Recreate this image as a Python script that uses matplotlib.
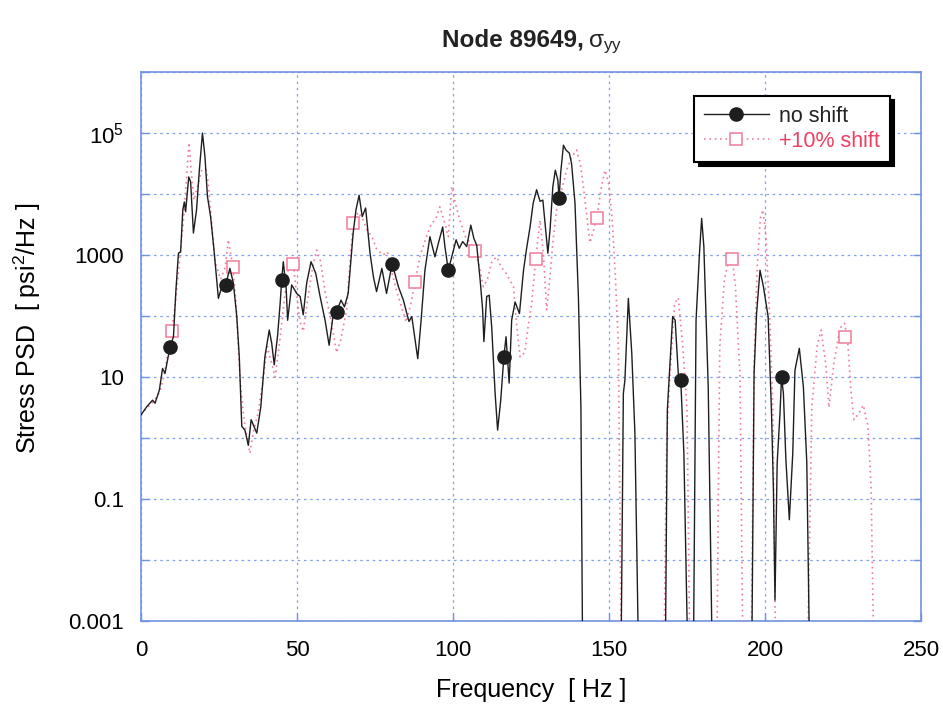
import numpy as np
import matplotlib
matplotlib.use("Agg")
import matplotlib.pyplot as plt
from matplotlib.lines import Line2D
from matplotlib import font_manager as fm

names = {f.name for f in fm.fontManager.ttflist}
FONT = "Liberation Sans Narrow" if "Liberation Sans Narrow" in names else "Liberation Sans"
plt.rcParams["font.family"] = [FONT, "DejaVu Sans"]
plt.rcParams["mathtext.fontset"] = "custom"
plt.rcParams["mathtext.rm"] = FONT
plt.rcParams["mathtext.it"] = FONT

# ---------------- data ----------------
# "no shift" curve: frequency [Hz] and log10 of Stress PSD [psi^2/Hz]
noshift_freq = [0.0, 1.8, 3.7, 4.5, 5.9, 6.9, 7.7, 9.3, 10.4, 11.2, 12.0, 12.7, 13.4, 13.9, 14.3,
                15.3, 15.9, 16.8, 17.8, 18.7, 19.7, 20.5, 21.3, 22.3, 23.4, 24.8, 25.9, 27.1, 28.5,
                29.6, 30.7, 31.5, 32.3, 33.3, 34.4, 35.3, 37.1, 38.4, 39.7, 41.1, 41.9, 42.7, 43.8,
                44.6, 45.1, 45.6, 46.5, 47.0, 48.3, 49.9, 51.0, 52.0, 53.1, 54.5, 56.0, 57.4, 59.0,
                60.3, 61.6, 62.7, 64.1, 65.2, 66.4, 68.0, 68.9, 69.9, 70.9, 72.0, 73.4, 74.5, 75.5,
                77.2, 78.7, 80.5, 82.5, 84.1, 85.2, 85.9, 86.8, 88.7, 89.7, 91.0, 92.6, 94.2, 95.3,
                96.7, 97.4, 98.5, 99.6, 101.0, 102.0, 103.1, 104.4, 105.7, 106.7, 107.6, 108.7,
                109.5, 109.9, 110.8, 111.6, 112.4, 113.5, 114.3, 115.3, 116.3, 117.0, 118.0, 118.8,
                119.9, 121.3, 122.6, 123.6, 124.7, 125.7, 126.8, 127.9, 128.8, 129.5, 130.4, 131.1,
                132.0, 132.8, 133.6, 134.0, 134.5, 135.4, 136.2, 137.3, 138.0, 139.1, 140.2, 141.0,
                141.6, 153.8, 154.6, 155.1, 156.2, 157.3, 158.3, 159.6, 168.0, 168.7, 169.6, 170.4,
                171.2, 172.2, 173.0, 174.0, 175.4, 177.0, 177.9, 179.0, 179.7, 180.4, 181.8, 183.2,
                195.7, 196.5, 197.3, 198.4, 199.5, 201.0, 202.1, 202.7, 203.2, 203.9, 204.8, 205.3,
                205.9, 206.7, 207.8, 208.9, 209.6, 211.0, 212.3, 213.4, 214.4]
noshift_log10_psd = [0.38, 0.51, 0.62, 0.57, 0.79, 1.14, 1.06, 1.49, 1.66, 2.43, 3.03, 3.05, 3.74, 3.87, 3.71,
                     4.28, 4.20, 3.36, 3.74, 4.39, 5.00, 4.61, 3.96, 3.63, 3.08, 2.29, 2.48, 2.51, 2.78,
                     2.54, 1.99, 1.33, 0.19, 0.13, -0.12, 0.30, 0.08, 0.51, 1.33, 1.77, 1.55, 1.20, 1.69,
                     2.21, 2.59, 2.89, 2.48, 1.93, 2.51, 2.37, 2.32, 2.02, 2.54, 2.89, 2.70, 2.32, 1.93,
                     1.52, 2.02, 2.07, 2.26, 2.15, 2.37, 3.36, 3.74, 3.98, 3.63, 3.77, 3.03, 2.64, 2.40,
                     2.78, 2.37, 2.86, 2.48, 2.26, 2.04, 1.91, 1.99, 1.30, 1.88, 2.75, 3.30, 2.97, 3.19,
                     3.46, 3.14, 2.75, 2.97, 3.25, 3.11, 3.22, 3.14, 3.49, 3.27, 3.16, 2.59,
                     2.10, 1.58, 2.32, 2.34, 1.82, 0.73, 0.13, 0.62, 1.33, 1.66, 0.90, 1.93,
                     2.23, 2.04, 2.75, 3.11, 3.46, 3.85, 4.07, 3.88, 3.90, 3.52, 3.03, 3.41,
                     4.12, 4.39, 4.23, 3.93, 4.34, 4.80, 4.72, 4.67, 4.50, 3.85, 2.30, 0.50,
                     -4.0, -4.0, 0.73, 0.95, 2.29, 1.39, 0.08, -4.0, -4.0, 0.46, 1.28, 1.99,
                     1.93, 1.06, 0.95, -0.25, -4.0, -4.0, 1.93, 3.03, 3.60, 3.14, 0.84, -4.0,
                     -4.0, 1.06, 2.04, 2.75, 2.48, 1.99, 0.40, -0.85, -2.66, -0.41, 0.40, 1.00,
                     0.73, -0.36, -1.34, -0.25, 1.11, 1.47, 0.84, -0.41, -4.0]
noshift_marker_freq = [9.3, 27.1, 45.1, 62.7, 80.5, 98.5, 116.3, 134.0, 173.0, 205.3]
noshift_marker_log10 = [1.49, 2.51, 2.59, 2.07, 2.86, 2.75, 1.33, 3.93, 0.95, 1.00]

# "+10% shift" curve
shift_freq = [0.0, 2.0, 4.0, 6.0, 7.5, 9.8, 11.0, 12.5, 13.5, 14.5, 15.4, 16.2, 17.0, 18.0, 19.5,
              20.8, 21.5, 22.5, 23.7, 25.5, 27.0, 28.0, 29.4, 30.5, 31.7, 33.0, 34.9, 36.0, 37.5,
              39.0, 40.5, 42.0, 43.0, 44.5, 46.0, 47.5, 48.8, 50.0, 51.0, 52.0, 53.5, 55.0, 56.3,
              57.5, 59.0, 61.0, 62.7, 64.0, 65.9, 67.0, 68.0, 69.5, 71.0, 72.5, 74.0, 75.5, 77.5,
              79.0, 80.5, 82.0, 83.5, 85.0, 86.5, 87.8, 89.5, 91.5, 93.0, 94.5, 95.8, 97.5, 98.5,
              99.6, 101.0, 102.2, 104.0, 105.5, 107.0, 108.5, 109.7, 111.0, 112.5, 114.0, 115.5,
              117.0, 119.4, 120.5, 121.5, 123.0, 124.0, 125.2, 126.5, 127.9, 129.0, 130.0, 131.0,
              132.0, 133.2, 134.5, 136.4, 138.0, 139.6, 140.8, 141.8, 143.0, 143.9, 145.0, 146.1,
              147.5, 148.7, 149.8, 151.0, 152.0, 153.0, 154.0, 167.5, 168.5, 169.5, 171.0, 172.2,
              173.5, 175.0, 176.0, 184.5, 185.5, 187.0, 188.5, 189.5, 190.5, 192.0, 193.0, 195.5,
              196.5, 197.5, 198.5, 199.3, 200.3, 201.5, 202.5, 203.5, 213.5, 215.0, 216.7, 218.0,
              219.5, 220.5, 222.0, 224.0, 225.5, 226.5, 227.5, 228.5, 230.0, 231.5, 233.0, 234.0,
              235.0]
shift_log10_psd = [0.38, 0.50, 0.60, 0.75, 1.05, 1.76, 2.20, 3.00, 3.50, 4.20, 4.84, 4.30, 3.90, 4.10, 4.40,
                   4.40, 4.20, 3.60, 2.90, 2.60, 2.80, 3.25, 2.81, 2.20, 1.00, 0.30, -0.25, 0.10, 0.40,
                   0.90, 1.50, 1.20, 1.00, 1.60, 2.30, 2.90, 2.85, 2.30, 1.90, 1.75, 2.30, 2.80, 3.08,
                   2.90, 2.40, 1.90, 1.40, 1.60, 2.10, 2.90, 3.50, 3.70, 3.60, 3.40, 3.30, 3.10, 3.00,
                   3.05, 2.70, 2.40, 2.15, 1.90, 2.20, 2.55, 3.00, 3.30, 3.50, 3.60, 3.79, 3.50, 3.30,
                   4.12, 3.80, 3.57, 3.30, 3.20, 3.08, 2.80, 2.48, 2.60, 2.90, 2.97, 2.80,
                   2.70, 2.48, 1.80, 1.33, 1.40, 1.80, 2.20, 2.93, 3.57, 3.00, 2.10, 2.60,
                   3.20, 3.74, 4.00, 4.39, 4.60, 4.72, 4.50, 4.12, 3.60, 3.20, 3.40, 3.61,
                   4.10, 4.39, 4.20, 3.60, 2.70, 1.50, -4.0, -4.0, 0.00, 1.00, 2.20, 2.30,
                   1.60, 0.50, -4.0, -4.0, 1.50, 2.60, 2.95, 2.93, 2.50, 1.00, -4.0, -4.0,
                   1.20, 2.80, 3.60, 3.74, 3.30, 2.00, 0.50, -4.0, -4.0, 0.50, 1.50, 1.77,
                   1.20, 0.50, 1.20, 1.80, 1.88, 1.60, 0.80, 0.30, 0.40, 0.54, 0.20, -0.80,
                   -4.0]
shift_marker_freq = [9.8, 29.4, 48.8, 68.0, 87.8, 107.0, 126.6, 146.1, 189.3, 225.6]
shift_marker_log10 = [1.76, 2.81, 2.85, 3.53, 2.55, 3.07, 2.93, 3.61, 2.93, 1.66]

ytick_values = [1e-3, 1e-2, 1e-1, 1e0, 1e1, 1e2, 1e3, 1e4, 1e5, 1e6]
ytick_labels = ["0.001", "", "0.1", "", "10", "", "1000", "", r"$\mathregular{10^5}$", ""]
xtick_values = [0, 50, 100, 150, 200, 250]

# ---------------- figure ----------------
BLUE = "#6f93e0"
GRIDBLUE = "#7f9ff0"
PINK = "#f07c9a"
PINKTXT = "#ee3f63"
BLACK = "#1e1e1e"

fig = plt.figure(figsize=(9.43, 7.09), dpi=100)
ax = fig.add_axes([141 / 943, 1 - 621 / 709, 780 / 943, 549 / 709])

ax.plot(shift_freq, 10.0 ** np.array(shift_log10_psd), color=PINK, lw=1.2,
        linestyle=(0, (1, 2.2)), zorder=3)
ax.plot(shift_marker_freq, 10.0 ** np.array(shift_marker_log10), linestyle="none",
        marker="s", ms=9, mfc="white", mec=PINK, mew=1.1, zorder=4)
ax.plot(noshift_freq, 10.0 ** np.array(noshift_log10_psd), color=BLACK, lw=1.0, zorder=5)
ax.plot(noshift_marker_freq, 10.0 ** np.array(noshift_marker_log10), linestyle="none",
        marker="o", ms=9.5, mfc=BLACK, mec=BLACK, zorder=6)

ax.set_yscale("log")
ax.set_xlim(0, 250)
ax.set_ylim(1e-3, 1e6)
ax.set_yticks(ytick_values)
ax.set_yticklabels(ytick_labels)
ax.yaxis.set_minor_locator(matplotlib.ticker.NullLocator())
ax.set_xticks(xtick_values)
ax.set_xticklabels([str(v) for v in xtick_values])

for s in ax.spines.values():
    s.set_color(BLUE)
    s.set_linewidth(1.2)
ax.tick_params(axis="both", which="both", direction="in", color=BLUE, length=6,
               width=1.0, labelsize=16, right=True, top=False)
ax.tick_params(axis="y", pad=12)
ax.tick_params(axis="x", pad=14)

ax.grid(True, which="major", color=GRIDBLUE, linestyle=(0, (2, 3)), linewidth=0.9)
ax.set_axisbelow(True)

ax.set_xlabel("Frequency  [ Hz ]", fontsize=18)
ax.xaxis.set_label_coords(0.5, -(690 - 621) / 549)
ax.xaxis.label.set_va("center")
ax.set_ylabel(r"Stress PSD  [ psi$\mathregular{^2}$/Hz ]", fontsize=18)
ax.yaxis.set_label_coords(-(141 - 27) / 780, (621 - 328) / 549)
ax.yaxis.label.set_va("center")

# title: bold part + regular sigma_yy
fig.text(584 / 943, 1 - 47 / 709, "Node 89649,", fontsize=17.5, fontweight="bold",
         ha="right", va="baseline", color="#222222")
fig.text(588 / 943, 1 - 47 / 709, r"$\mathregular{\sigma_{yy}}$", fontsize=17.5,
         ha="left", va="baseline", color="#222222")

h1 = Line2D([], [], color=BLACK, lw=1.0, marker="o", ms=9.5, mfc=BLACK, mec=BLACK)
h2 = Line2D([], [], color=PINK, lw=1.2, linestyle=(0, (1, 2.2)), marker="s", ms=9,
            mfc="white", mec=PINK, mew=1.1)
leg = ax.legend([h1, h2], ["no shift", "+10% shift"], loc="upper right",
                bbox_to_anchor=(890 / 943, 1 - 96 / 709), bbox_transform=fig.transFigure,
                fontsize=15.5, handlelength=3.0, frameon=True, fancybox=False,
                shadow={"color": "black", "alpha": 1.0, "ox": 3, "oy": -3},
                borderpad=0.45, labelspacing=0.2, handletextpad=0.5, borderaxespad=0)
leg.get_frame().set_edgecolor("black")
leg.get_frame().set_linewidth(1.5)
leg.get_texts()[1].set_color(PINKTXT)
leg.get_texts()[0].set_color("#222222")

fig.savefig("out.png", dpi=100, facecolor="white")
